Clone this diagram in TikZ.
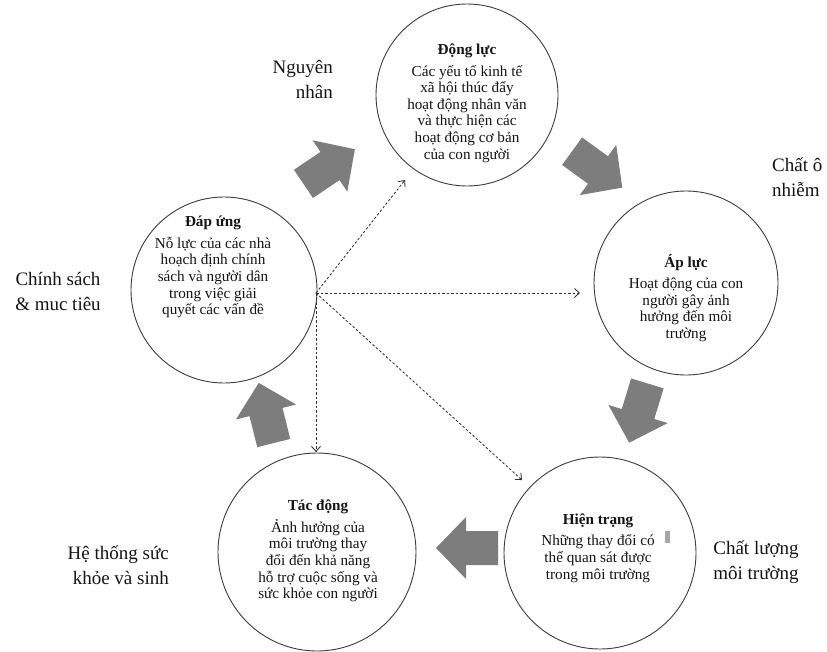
\documentclass[tikz,border=0pt]{standalone}
\usepackage{fontspec}
\setmainfont{Liberation Serif}
\usetikzlibrary{arrows.meta}
\definecolor{arrowgray}{RGB}{125,125,125}
\definecolor{linegray}{RGB}{60,60,60}
\definecolor{textgray}{RGB}{20,20,20}
\tikzset{
  circ/.style={circle, draw=linegray, line width=0.9pt, minimum size=#1, inner sep=0pt},
  intext/.style={align=center, font=\fontsize{15.2}{16.6}\selectfont, text=textgray, inner sep=0pt},
  outtext/.style={font=\fontsize{19}{25}\selectfont, text=textgray, inner sep=0pt},
  dasharrow/.style={draw=black!80, line width=0.85pt, dash pattern=on 2.5pt off 2pt,
    -{Straight Barb[length=5pt,width=9pt]}},
  pics/fatarrow/.style={code={
    \fill[arrowgray] (-32,-17) -- (0,-17) -- (0,-31) -- (30,0) -- (0,31) -- (0,17) -- (-32,17) -- cycle;}}
}
\begin{document}
\begin{tikzpicture}[x=1pt,y=-1pt]
\useasboundingbox[fill=white] (0,0) rectangle (827,651);

% circles
\node[circ=182] (dl) at (467,95) {};
\node[circ=184] (al) at (686,283) {};
\node[circ=192] (ht) at (600,553) {};
\node[circ=198] (td) at (317,552) {};
\node[circ=186] (du) at (224,290) {};

% texts in circles
\node[intext] (dlt) at (467,103) {\textbf{Động lực}\\[5pt]Các yếu tố kinh tế\\xã hội thúc đẩy\\hoạt động nhân văn\\và thực hiện các\\hoạt động cơ bản\\của con người};
\node[intext] (alt) at (686,298) {\textbf{Áp lực}\\[5pt]Hoạt động của con\\người  gây ảnh\\hưởng đến môi\\trường};
\node[intext] (htt) at (598,548) {\textbf{Hiện trạng}\\[5pt]Những thay đổi có\\thể quan sát được\\trong môi trường};
\node[intext] (tdt) at (318,551) {\textbf{Tác động}\\[5pt]Ảnh hưởng của\\môi trường thay\\đổi đến  khả năng\\hỗ trợ cuộc sống và\\sức khỏe con người};
\node[intext] (dut) at (213,267) {\textbf{Đáp ứng}\\[5pt]Nỗ lực của các nhà\\hoạch định chính\\sách và người dân\\trong việc giải\\quyết các vấn đề};

% small mark
\fill[gray!70] (665,531) rectangle (670,543);

% outer labels
\node[outtext, align=right, anchor=east] (nn) at (333,79) {Nguyên\\nhân};
\node[outtext, align=left, anchor=west] (con) at (772,177) {Chất ô\\nhiễm};
\node[outtext, align=center] (clmt) at (756,562) {Chất lượng\\môi trường};
\node[outtext, align=right, anchor=east] (hts) at (169,565) {Hệ thống sức\\khỏe và sinh};
\node[outtext, align=center] (cs) at (58,291) {Chính sách\\\& muc tiêu};

% fat arrows
\pic[rotate=34] at (330,166) {fatarrow};
\pic[rotate=-36] at (598,170) {fatarrow};
\pic[rotate=-107] at (638,414) {fatarrow};
\pic[rotate=180] at (466,548) {fatarrow};
\pic[rotate=104] at (266,412) {fatarrow};

% dashed arrows
\coordinate (src) at (316,293);
\coordinate (e1) at (405,180);
\coordinate (e2) at (580,293);
\coordinate (e3) at (522,480);
\coordinate (e4) at (316,452);
\draw[dasharrow] (src) -- (e1);
\draw[dasharrow] (src) -- (e2);
\draw[dasharrow] (src) -- (e3);
\draw[dasharrow] (src) -- (e4);
\end{tikzpicture}
\end{document}
